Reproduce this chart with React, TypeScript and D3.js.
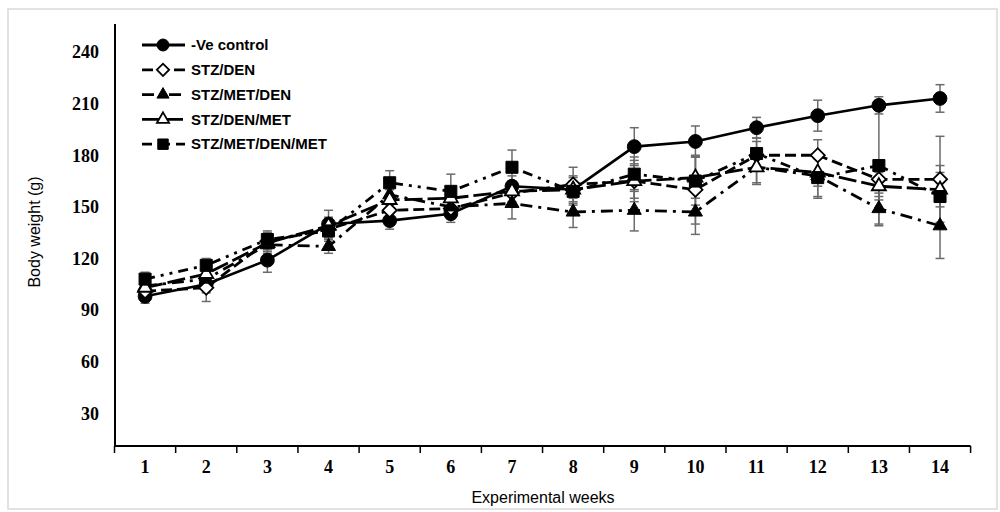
import * as d3 from 'd3';

// weekly body weight (g)
const weeks = [1, 2, 3, 4, 5, 6, 7, 8, 9, 10, 11, 12, 13, 14];
const yTicks = [30, 60, 90, 120, 150, 180, 210, 240];

const control = [98, 105, 119, 140, 142, 146, 162, 160, 185, 188, 196, 203, 209, 213];
const controlErr = [4, 5, 7, 8, 5, 5, 6, 5, 11, 9, 6, 9, 5, 8];
const stzDen = [101, 103, 130, 137, 148, 149, 158, 163, 165, 160, 180, 180, 166, 166];
const stzDenErr = [4, 8, 5, 5, 6, 6, 6, 10, 12, 20, 8, 9, 10, 25];
const stzMetDen = [104, 108, 128, 127, 157, 150, 152, 147, 148, 147, 173, 168, 149, 139];
const stzMetDenErr = [4, 5, 5, 4, 6, 6, 9, 9, 12, 13, 10, 12, 9, 19];
const stzDenMet = [103, 111, 129, 139, 154, 155, 159, 160, 165, 167, 173, 170, 162, 160];
const stzDenMetErr = [4, 5, 5, 5, 6, 6, 6, 8, 10, 12, 9, 8, 8, 10];
const stzMetDenMet = [108, 116, 131, 136, 164, 159, 173, 159, 169, 165, 181, 167, 174, 156];
const stzMetDenMetErr = [4, 4, 5, 6, 7, 10, 10, 8, 10, 14, 9, 12, 35, 18];

type Shape = 'circle' | 'diamond' | 'triFill' | 'triOpen' | 'square';

const series: { name: string; values: number[]; err: number[]; shape: Shape; dash: string }[] = [
  { name: '-Ve control', values: control, err: controlErr, shape: 'circle', dash: '' },
  { name: 'STZ/DEN', values: stzDen, err: stzDenErr, shape: 'diamond', dash: '11,5' },
  { name: 'STZ/MET/DEN', values: stzMetDen, err: stzMetDenErr, shape: 'triFill', dash: '12,6,3,6' },
  { name: 'STZ/DEN/MET', values: stzDenMet, err: stzDenMetErr, shape: 'triOpen', dash: '18,5' },
  { name: 'STZ/MET/DEN/MET', values: stzMetDenMet, err: stzMetDenMetErr, shape: 'square', dash: '10,6,3,6,3,6' },
];

const W = 1000;
const H = 512;
const x = d3.scaleBand<number>().domain(weeks).range([114.5, 970.6]);
const y = d3.scaleLinear().domain([11, 240]).range([446, 52]);
const cx = (w: number) => (x(w) ?? 0) + x.bandwidth() / 2;

const line = d3
  .line<number>()
  .x((_, i) => cx(weeks[i]))
  .y((d) => y(d));

function Marker({ shape, px, py, scale = 1 }: { shape: Shape; px: number; py: number; scale?: number }) {
  const open = shape === 'diamond' || shape === 'triOpen';
  const type =
    shape === 'circle' ? d3.symbolCircle : shape === 'square' || shape === 'diamond' ? d3.symbolSquare : d3.symbolTriangle;
  const size = (shape === 'circle' ? 150 : shape === 'square' ? 145 : shape === 'diamond' ? 100 : 85) * scale;
  const d = d3.symbol().type(type).size(size)() ?? '';
  return (
    <path
      d={d}
      transform={`translate(${px},${py})${shape === 'diamond' ? ' rotate(45)' : ''}`}
      fill={open ? '#fff' : '#000'}
      stroke="#000"
      strokeWidth={open ? 1.8 : 1}
    />
  );
}

export default function App() {
  const edges = [...weeks.map((w) => x(w) ?? 0), x.range()[1]];
  return (
    <svg width={W} height={H} style={{ position: 'absolute', left: 0, top: 0, background: '#fff' }}>
      <rect x={8} y={9} width={989} height={500} fill="#fff" stroke="#d9d9d9" strokeWidth={1.5} />

      {/* axes */}
      <line x1={115} x2={115} y1={24} y2={446} stroke="#000" strokeWidth={2} />
      <line x1={114} x2={x.range()[1]} y1={446} y2={446} stroke="#000" strokeWidth={2} />
      {edges.map((e, i) => (
        <line key={i} x1={e} x2={e} y1={446} y2={453} stroke="#000" strokeWidth={1.5} />
      ))}
      {yTicks.map((t) => (
        <text
          key={t}
          x={99}
          y={y(t)}
          dy="0.35em"
          textAnchor="end"
          fontFamily="'Liberation Serif', serif"
          fontWeight="bold"
          fontSize={18}
        >
          {t}
        </text>
      ))}
      {weeks.map((w) => (
        <text
          key={w}
          x={cx(w)}
          y={473}
          textAnchor="middle"
          fontFamily="'Liberation Serif', serif"
          fontWeight="bold"
          fontSize={18}
        >
          {w}
        </text>
      ))}
      <text x={543} y={503} textAnchor="middle" fontFamily="'Liberation Sans', Arial, sans-serif" fontSize={16}>
        Experimental weeks
      </text>
      <text
        transform="translate(40,232) rotate(-90)"
        textAnchor="middle"
        fontFamily="'Liberation Sans', Arial, sans-serif"
        fontSize={16}
      >
        Body weight (g)
      </text>

      {/* lines */}
      {series.map((s) => (
        <path
          key={s.name}
          d={line(s.values) ?? ''}
          fill="none"
          stroke="#000"
          strokeWidth={s.shape === 'circle' ? 2.6 : 2.8}
          strokeDasharray={s.dash || undefined}
        />
      ))}

      {/* error bars */}
      {series.map((s) =>
        s.values.map((v, i) => {
          const px = cx(weeks[i]);
          const y1 = y(v + s.err[i]);
          const y2 = y(v - s.err[i]);
          return (
            <g key={s.name + i} stroke="#6b6b6b" strokeWidth={1.5}>
              <line x1={px} x2={px} y1={y1} y2={y2} />
              <line x1={px - 4.5} x2={px + 4.5} y1={y1} y2={y1} />
              <line x1={px - 4.5} x2={px + 4.5} y1={y2} y2={y2} />
            </g>
          );
        })
      )}

      {/* markers */}
      {series.map((s) =>
        s.values.map((v, i) => <Marker key={s.name + 'm' + i} shape={s.shape} px={cx(weeks[i])} py={y(v)} />)
      )}

      {/* legend */}
      {series.map((s, i) => {
        const ly = 45 + i * 24.8;
        return (
          <g key={s.name + 'leg'}>
            <line x1={142} x2={185} y1={ly} y2={ly} stroke="#000" strokeWidth={2.8} strokeDasharray={s.dash || undefined} />
            <Marker shape={s.shape} px={163} py={ly} scale={0.75} />
            <text
              x={191}
              y={ly}
              dy="0.35em"
              fontFamily="'Liberation Sans', Arial, sans-serif"
              fontWeight="bold"
              fontSize={15}
            >
              {s.name}
            </text>
          </g>
        );
      })}
    </svg>
  );
}
